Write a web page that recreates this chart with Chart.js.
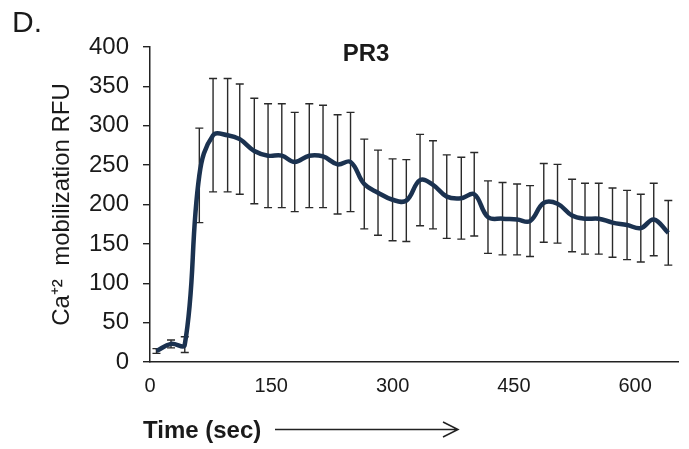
<!DOCTYPE html>
<html>
<head>
<meta charset="utf-8">
<script src="https://cdn.jsdelivr.net/npm/chart.js@4.4.1/dist/chart.umd.min.js"></script>
<style>
  html, body { margin: 0; padding: 0; background: #fff; }
  #wrap { width: 689px; height: 449px; position: relative; }
</style>
</head>
<body>
<div id="wrap"><canvas id="prChart"></canvas></div>
<script>
// PR3 calcium response, sampled about every 17 s
const timesSec = [8, 26, 43, 61, 78, 96, 111, 129, 146, 163, 179, 197, 214, 232, 248, 265, 282, 300, 317,
  334, 350, 367, 385, 401, 418, 436, 454, 470, 487, 504, 522, 538, 555, 572, 590, 607, 623, 641];
const meanRFU = [14, 23, 22, 237, 288, 288, 283, 268, 262, 262, 254, 262, 261, 251, 254, 226, 215, 206, 205,
  231, 225, 210, 208, 213, 184, 182, 181, 179, 202, 201, 186, 182, 182, 177, 174, 170, 181, 164];
const errRFU = [3, 5, 10, 60, 72, 72, 70, 67, 66, 66, 63, 66, 65, 63, 63, 57, 54, 52, 52,
  58, 56, 53, 52, 53, 46, 46, 45, 45, 50, 50, 46, 45, 45, 44, 44, 43, 46, 41];
const xTickValues = [0, 150, 300, 450, 600];

const FONT = "'Liberation Sans', Arial, sans-serif";
const INK = '#1a1a1a';

// vertical error bars, drawn under the line
const errorBars = {
  id: 'errorBars',
  beforeDatasetsDraw(chart) {
    const { ctx, scales: { x, y } } = chart;
    ctx.save();
    ctx.strokeStyle = '#2a2a2a';
    ctx.lineWidth = 1.4;
    timesSec.forEach((t, i) => {
      const px = x.getPixelForValue(t);
      const top = y.getPixelForValue(meanRFU[i] + errRFU[i]);
      const bot = y.getPixelForValue(meanRFU[i] - errRFU[i]);
      ctx.beginPath();
      ctx.moveTo(px, top); ctx.lineTo(px, bot);
      ctx.moveTo(px - 4, top); ctx.lineTo(px + 4, top);
      ctx.moveTo(px - 4, bot); ctx.lineTo(px + 4, bot);
      ctx.stroke();
    });
    ctx.restore();
  }
};

// panel letter, title and the time caption with its arrow
const captions = {
  id: 'captions',
  afterDraw(chart) {
    const ctx = chart.ctx;
    ctx.save();
    ctx.fillStyle = INK;
    ctx.textBaseline = 'alphabetic';
    ctx.textAlign = 'left';
    ctx.font = '30px ' + FONT;
    ctx.fillText('D.', 12, 32);

    ctx.textAlign = 'center';
    ctx.font = 'bold 24px ' + FONT;
    ctx.fillText('PR3', 366, 61);

    ctx.textAlign = 'left';
    ctx.fillText('Time (sec)', 143, 438);

    ctx.strokeStyle = '#222';
    ctx.lineWidth = 1.5;
    ctx.beginPath();
    ctx.moveTo(275, 429.5); ctx.lineTo(458, 429.5);
    ctx.moveTo(443, 422); ctx.lineTo(458, 429.5); ctx.lineTo(443, 437);
    ctx.stroke();
    ctx.restore();
  }
};

new Chart(document.getElementById('prChart'), {
  type: 'line',
  data: {
    datasets: [{
      data: timesSec.map((t, i) => ({ x: t, y: meanRFU[i] })),
      borderColor: '#1b3250',
      borderWidth: 4.5,
      tension: 0.4,
      pointRadius: 0,
      fill: false
    }]
  },
  options: {
    responsive: true,
    maintainAspectRatio: false,
    animation: false,
    layout: { padding: { top: 47, right: 11, left: 0, bottom: 0 } },
    plugins: { legend: { display: false }, tooltip: { enabled: false } },
    scales: {
      x: {
        type: 'linear',
        min: 0,
        max: 653,
        afterBuildTicks(scale) { scale.ticks = xTickValues.map(v => ({ value: v })); },
        afterFit(scale) { scale.height = 87; },
        grid: { display: false, drawTicks: false },
        border: { display: true, color: '#222', width: 1.5 },
        ticks: { color: INK, font: { family: FONT, size: 20 }, padding: 12, maxRotation: 0 }
      },
      y: {
        min: 0,
        max: 400,
        afterFit(scale) { scale.width = 150; },
        ticks: { stepSize: 50, color: INK, font: { family: FONT, size: 24 }, padding: 14 },
        grid: { drawOnChartArea: false, drawTicks: true, tickLength: 7, color: '#222', lineWidth: 1.4 },
        border: { display: true, color: '#222', width: 1.5 },
        title: {
          display: true,
          text: 'Ca\u207A\u00B2  mobilization RFU',
          color: INK,
          font: { family: FONT, size: 24 },
          padding: { top: 48, bottom: 0 }
        }
      }
    }
  },
  plugins: [errorBars, captions]
});
</script>
</body>
</html>
